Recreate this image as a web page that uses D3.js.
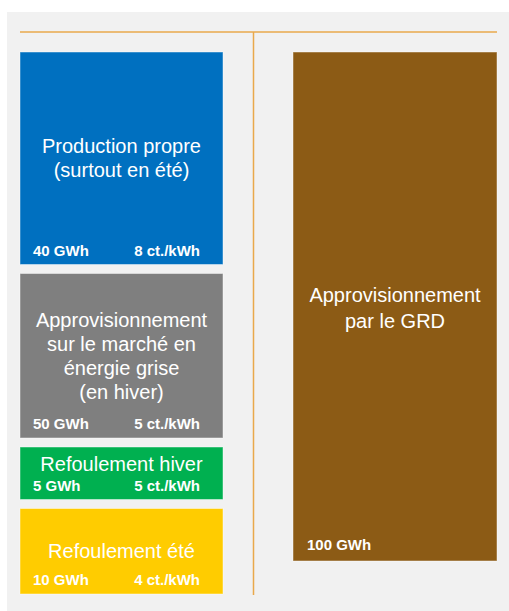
<!DOCTYPE html>
<html>
<head>
<meta charset="utf-8">
<script src="https://cdn.jsdelivr.net/npm/d3@7"></script>
<style>
    body { margin: 0; background: #fff; }
    svg { display: block; font-family: "Liberation Sans", Arial, sans-serif; }
</style>
</head>
<body>
<div id="chart"></div>
<script>
// data

var sources = [
    ["Production propre", "(surtout en été)"],
    ["Approvisionnement", "sur le marché en", "énergie grise", "(en hiver)"],
    ["Refoulement hiver"],
    ["Refoulement été"]
];
var energies = [40, 50, 5, 10];          // GWh
var prices = [8, 5, 5, 4];               // ct./kWh
var colors = ["#0070c0", "#7f7f7f", "#00b050", "#ffcc00"];

var gridTitle = ["Approvisionnement", "par le GRD"];
var gridEnergy = 100;                    // GWh
var gridColor = "#8c5b15";

var width = 509,
    height = 611,
    lineColor = "#e9a94b";

var svg = d3.select("#chart")
    .append("svg")
    .attr("width", width)
    .attr("height", height);

// panel
svg.append("rect")
    .attr("x", 7)
    .attr("y", 12)
    .attr("width", width - 7)
    .attr("height", height - 12)
    .attr("fill", "#f1f1f1");

// separators
svg.append("line")
    .attr("x1", 20).attr("x2", 497)
    .attr("y1", 32).attr("y2", 32)
    .style("stroke", lineColor)
    .style("stroke-width", 1.5);

svg.append("line")
    .attr("x1", 253.5).attr("x2", 253.5)
    .attr("y1", 32).attr("y2", 595)
    .style("stroke", lineColor)
    .style("stroke-width", 1.5);

// left column: cumulative GWh -> schematic (not to scale) position
var cum = [0];
energies.forEach(function (d, i) { cum.push(cum[i] + d); });

var yLeft = d3.scaleLinear()
    .domain(cum)
    .range([47.5, 269, 442.5, 504, 598.5]);

var yRight = d3.scaleLinear()
    .domain([0, gridEnergy])
    .range([52, 561]);

var inset = 4.5,
    lineH = 24,
    fs = 20,
    lfs = 15;

var left = sources.map(function (t, i) {
    return {
        title: t,
        energy: energies[i],
        price: prices[i],
        color: colors[i],
        y0: yLeft(cum[i]) + inset,
        y1: yLeft(cum[i + 1]) - inset
    };
});

var box = svg.selectAll(".box")
    .data(left)
    .enter()
    .append("g")
    .attr("class", "box");

box.append("rect")
    .attr("x", 20)
    .attr("width", 203)
    .attr("y", function (d) { return d.y0; })
    .attr("height", function (d) { return d.y1 - d.y0; })
    .attr("fill", function (d) { return d.color; })
    .style("stroke", "rgba(255,255,255,0.45)")
    .style("stroke-width", 1);

function titleCenter(d) {
    var c = (d.y0 + d.y1) / 2,
        maxC = d.y1 - 10 - 14 - d.title.length * lineH / 2;
    return Math.min(c, maxC);
}

box.each(function (d) {
    var g = d3.select(this),
        c = titleCenter(d),
        top = c - (d.title.length - 1) * lineH / 2;

    g.selectAll(".title")
        .data(d.title)
        .enter()
        .append("text")
        .attr("class", "title")
        .attr("x", 121.5)
        .attr("y", function (t, j) { return top + j * lineH; })
        .attr("dy", "0.35em")
        .attr("text-anchor", "middle")
        .style("font-size", fs + "px")
        .style("fill", "#fff")
        .text(function (t) { return t; });

    g.append("text")
        .attr("x", 33)
        .attr("y", d.y1 - 9)
        .style("font-size", lfs + "px")
        .style("font-weight", "bold")
        .style("fill", "#fff")
        .text(d.energy + " GWh");

    g.append("text")
        .attr("x", 200)
        .attr("y", d.y1 - 9)
        .attr("text-anchor", "end")
        .style("font-size", lfs + "px")
        .style("font-weight", "bold")
        .style("fill", "#fff")
        .text(d.price + " ct./kWh");
});

// right column
var r0 = yRight(0),
    r1 = yRight(gridEnergy);

svg.append("rect")
    .attr("x", 293)
    .attr("width", 204)
    .attr("y", r0)
    .attr("height", r1 - r0)
    .attr("fill", gridColor)
    .style("stroke", "rgba(255,255,255,0.45)")
    .style("stroke-width", 1);

var rc = (r0 + r1) / 2 - (gridTitle.length - 1) * lineH / 2;

svg.selectAll(".gridTitle")
    .data(gridTitle)
    .enter()
    .append("text")
    .attr("class", "gridTitle")
    .attr("x", 395)
    .attr("y", function (t, j) { return rc + j * (lineH + 2); })
    .attr("dy", "0.35em")
    .attr("text-anchor", "middle")
    .style("font-size", fs + "px")
    .style("fill", "#fff")
    .text(function (t) { return t; });

svg.append("text")
    .attr("x", 307)
    .attr("y", r1 - 11)
    .style("font-size", lfs + "px")
    .style("font-weight", "bold")
    .style("fill", "#fff")
    .text(gridEnergy + " GWh");
</script>
</body>
</html>
